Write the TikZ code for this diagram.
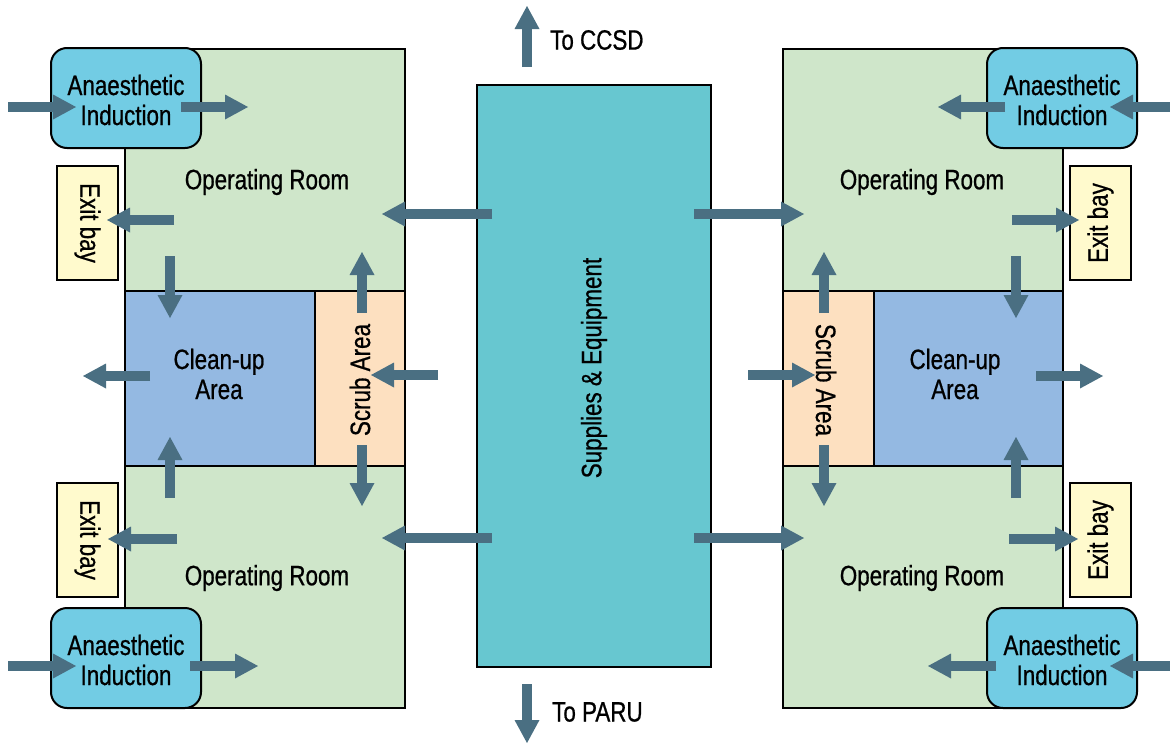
\documentclass[tikz,border=0pt]{standalone}
\usepackage{fontspec}
\setmainfont[FakeStretch=0.8,FakeBold=0.7]{Liberation Sans}
\usetikzlibrary{arrows.meta}
\definecolor{orgreen}{RGB}{207,230,202}
\definecolor{cleanblue}{RGB}{148,185,226}
\definecolor{scrubpeach}{RGB}{253,224,192}
\definecolor{supplyteal}{RGB}{103,199,208}
\definecolor{aiblue}{RGB}{114,204,228}
\definecolor{exityellow}{RGB}{255,250,205}
\definecolor{arrowc}{RGB}{74,111,130}
\tikzset{
  room/.style={draw, line width=2pt, inner sep=0pt, anchor=north west},
  aibox/.style={room, fill=aiblue, rounded corners=16pt, minimum width=150pt, minimum height=100pt},
  exitbox/.style={room, fill=exityellow, minimum width=61pt, minimum height=114pt},
  lab/.style={align=center, inner sep=0pt},
  flow/.style={line width=10pt, draw=arrowc, -{Triangle[width=25pt,length=23pt,line width=0pt]}}
}
\newcommand{\arr}[5]{\coordinate (#1-s) at (#2,#3); \coordinate (#1-e) at (#4,#5); \draw[flow] (#1-s) -- (#1-e);}
\begin{document}
\begin{tikzpicture}[x=1pt,y=-1pt,font=\fontsize{28}{30}\selectfont]
\useasboundingbox (0,0) rectangle (1170,744);
% left column
\node[room, fill=orgreen, minimum width=280pt, minimum height=242pt] (orTL) at (124,48) {};
\node[room, fill=cleanblue, minimum width=190pt, minimum height=175pt] (cuL) at (124,290) {};
\node[room, fill=scrubpeach, minimum width=90pt, minimum height=175pt] (scL) at (314,290) {};
\node[room, fill=orgreen, minimum width=280pt, minimum height=242pt] (orBL) at (124,465) {};
% right column
\node[room, fill=orgreen, minimum width=280pt, minimum height=242pt] (orTR) at (782,48) {};
\node[room, fill=scrubpeach, minimum width=91pt, minimum height=175pt] (scR) at (782,290) {};
\node[room, fill=cleanblue, minimum width=189pt, minimum height=175pt] (cuR) at (873,290) {};
\node[room, fill=orgreen, minimum width=280pt, minimum height=242pt] (orBR) at (782,465) {};
% supplies
\node[room, fill=supplyteal, minimum width=234pt, minimum height=582pt] (sup) at (476,84) {};
% anaesthetic induction
\node[aibox] (aiTL) at (50,47) {};
\node[aibox] (aiBL) at (50,607) {};
\node[aibox] (aiTR) at (986,47) {};
\node[aibox] (aiBR) at (986,607) {};
% exit bays
\node[exitbox] (exTL) at (56,165) {};
\node[exitbox] (exBL) at (56,482) {};
\node[exitbox] (exTR) at (1069,165) {};
\node[exitbox] (exBR) at (1069,482) {};
% labels
\node[lab, yshift=-2pt] (tAITL) at (aiTL.center) {Anaesthetic\\Induction};
\node[lab, yshift=-2pt] (tAIBL) at (aiBL.center) {Anaesthetic\\Induction};
\node[lab, yshift=-2pt] (tAITR) at (aiTR.center) {Anaesthetic\\Induction};
\node[lab, yshift=-2pt] (tAIBR) at (aiBR.center) {Anaesthetic\\Induction};
\node[lab, rotate=-90] (tEXTL) at (exTL.center) {Exit bay};
\node[lab, rotate=-90] (tEXBL) at (exBL.center) {Exit bay};
\node[lab, rotate=90] (tEXTR) at (exTR.center) {Exit bay};
\node[lab, rotate=90] (tEXBR) at (exBR.center) {Exit bay};
\node[lab] (tORTL) at (267,182) {Operating Room};
\node[lab] (tORBL) at (267,578) {Operating Room};
\node[lab] (tORTR) at (922,182) {Operating Room};
\node[lab] (tORBR) at (922,578) {Operating Room};
\node[lab] (tCUL) at (219,374) {Clean-up\\Area};
\node[lab] (tCUR) at (955,374) {Clean-up\\Area};
\node[lab, rotate=90] (tSCL) at (360,380) {Scrub Area};
\node[lab, rotate=-90] (tSCR) at (826,380) {Scrub Area};
\node[lab, rotate=90] (tSUP) at (594,368) {Supplies \& Equipment};
\node[lab, anchor=west] (tCCSD) at (550,40) {To CCSD};
\node[lab, anchor=west] (tPARU) at (552,712) {To PARU};
% arrows left
\arr{a1}{8}{107}{76}{107}
\arr{a2}{181}{107}{248}{107}
\arr{a3}{174}{220}{107}{220}
\arr{a4}{170}{256}{170}{318}
\arr{a5}{150}{376}{83}{376}
\arr{a6}{170}{498}{170}{437}
\arr{a7}{177}{539}{108}{539}
\arr{a8}{8}{666}{76}{666}
\arr{a9}{190}{666}{258}{666}
\arr{a10}{492}{214}{382}{214}
\arr{a11}{362}{313}{362}{252}
\arr{a12}{438}{375}{371}{375}
\arr{a13}{362}{445}{362}{506}
\arr{a14}{492}{538}{382}{538}
% arrows right
\arr{b1}{1170}{107}{1110}{107}
\arr{b2}{1005}{107}{938}{107}
\arr{b3}{1012}{220}{1079}{220}
\arr{b4}{1016}{256}{1016}{318}
\arr{b5}{1036}{376}{1103}{376}
\arr{b6}{1016}{498}{1016}{437}
\arr{b7}{1009}{539}{1078}{539}
\arr{b8}{1170}{666}{1110}{666}
\arr{b9}{996}{666}{928}{666}
\arr{b10}{694}{214}{804}{214}
\arr{b11}{824}{313}{824}{252}
\arr{b12}{748}{375}{815}{375}
\arr{b13}{824}{445}{824}{506}
\arr{b14}{694}{538}{804}{538}
% outward
\arr{c1}{527}{67}{527}{6}
\arr{c2}{527}{684}{527}{743}
\end{tikzpicture}
\end{document}
